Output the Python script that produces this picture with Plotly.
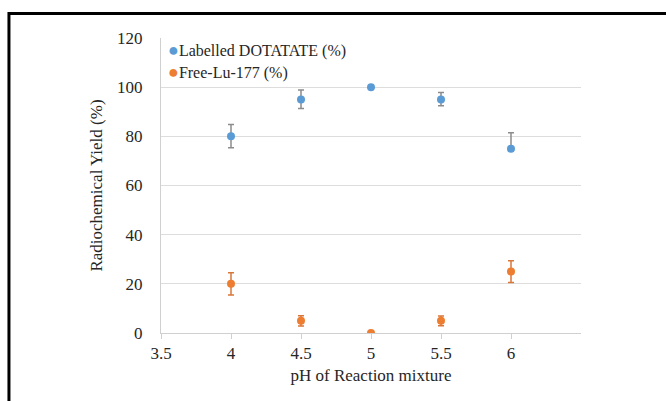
import plotly.graph_objects as go

ph = [4, 4.5, 5, 5.5, 6]
labelled = [80, 95, 100, 95, 75]
labelled_err_plus = [4.8, 3.8, 0, 2.8, 6.5]
labelled_err_minus = [4.6, 3.7, 0, 2.6, 0]
free = [20, 5, 0, 5, 25]
free_err_plus = [4.5, 2.0, 0, 1.9, 4.4]
free_err_minus = [4.5, 2.2, 0, 2.1, 4.5]
x_ticks = [3.5, 4, 4.5, 5, 5.5, 6]
x_ticklabels = ["3.5", "4", "4.5", "5", "5.5", "6"]
y_ticks = [0, 20, 40, 60, 80, 100, 120]
series_names = ["Labelled DOTATATE (%)", "Free-Lu-177 (%)"]

BLUE = "#5B9BD5"
ORANGE = "#ED7D31"
FONT = "Liberation Serif, Times New Roman, serif"
TXT = "#262626"

fig = go.Figure()
fig.add_trace(go.Scatter(
    x=ph, y=labelled, mode="markers", name=series_names[0],
    marker=dict(color=BLUE, size=8),
    error_y=dict(type="data", symmetric=False, array=labelled_err_plus,
                 arrayminus=labelled_err_minus, color="#8C8C8C", thickness=1.5, width=3),
    showlegend=False,
))
fig.add_trace(go.Scatter(
    x=ph, y=free, mode="markers", name=series_names[1],
    marker=dict(color=ORANGE, size=8),
    error_y=dict(type="data", symmetric=False, array=free_err_plus,
                 arrayminus=free_err_minus, color="#D9773A", thickness=1.5, width=3),
    showlegend=False,
))

# legend built as annotations
for i, (name, col) in enumerate(zip(series_names, [BLUE, ORANGE])):
    fig.add_annotation(
        xref="paper", yref="paper", x=0.012, y=0.96 - i * 0.075,
        xanchor="left", yanchor="middle", showarrow=False,
        text=f"<span style='color:{col};font-size:18px'>●</span>{name}",
        font=dict(family=FONT, size=16, color=TXT),
    )

# outer frame
fig.add_shape(type="rect", xref="paper", yref="paper",
              x0=-0.362, y0=-0.3, x1=1.3, y1=1.083,
              line=dict(color="black", width=3))

fig.update_layout(
    width=666, height=401,
    margin=dict(l=161, r=85, t=38, b=68),
    paper_bgcolor="white", plot_bgcolor="white",
    font=dict(family=FONT, size=16, color=TXT),
    xaxis=dict(
        range=[3.5, 6.5], tickvals=x_ticks, ticktext=x_ticklabels,
        showgrid=False, zeroline=False, showline=True, linecolor="#D0D0D0", linewidth=1,
        ticks="outside", ticklen=5, tickcolor="#D0D0D0",
        title=dict(text="pH of Reaction mixture", font=dict(family=FONT, size=17, color=TXT), standoff=6),
        tickfont=dict(family=FONT, size=17, color=TXT),
    ),
    yaxis=dict(
        range=[0, 120], tickvals=y_ticks,
        showgrid=True, gridcolor="#DDDDDD", gridwidth=1,
        zeroline=False, showline=True, linecolor="#D0D0D0", linewidth=1,
        ticks="", ticklabelstandoff=14,
        title=dict(text="Radiochemical Yield (%)", font=dict(family=FONT, size=17, color=TXT), standoff=10),
        tickfont=dict(family=FONT, size=17, color=TXT),
    ),
)

fig.write_html("out.html")
